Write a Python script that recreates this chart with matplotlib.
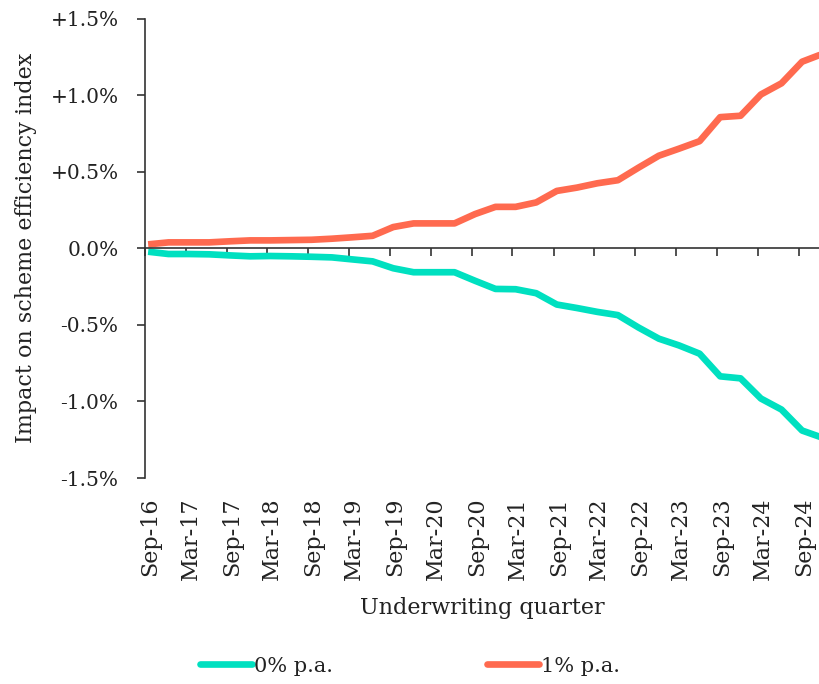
# Impact on scheme efficiency index by underwriting quarter

import pandas as pd
import matplotlib
matplotlib.use('Agg')
import matplotlib.pyplot as plt
import matplotlib.dates as mdates
from matplotlib.transforms import ScaledTranslation

# Données
quarters = ["Sep-16", "Dec-16", "Mar-17", "Jun-17", "Sep-17", "Dec-17", "Mar-18", "Jun-18",
            "Sep-18", "Dec-18", "Mar-19", "Jun-19", "Sep-19", "Dec-19", "Mar-20", "Jun-20",
            "Sep-20", "Dec-20", "Mar-21", "Jun-21", "Sep-21", "Dec-21", "Mar-22", "Jun-22",
            "Sep-22", "Dec-22", "Mar-23", "Jun-23", "Sep-23", "Dec-23", "Mar-24", "Jun-24",
            "Sep-24", "Dec-24"]
zero_pa = [-0.022, -0.037, -0.037, -0.039, -0.046, -0.052, -0.050, -0.052,
           -0.055, -0.059, -0.072, -0.085, -0.130, -0.156, -0.156, -0.156,
           -0.212, -0.265, -0.267, -0.293, -0.367, -0.390, -0.415, -0.436,
           -0.517, -0.590, -0.634, -0.688, -0.836, -0.849, -0.981, -1.053,
           -1.190, -1.237]
one_pa = [0.026, 0.039, 0.039, 0.039, 0.046, 0.052, 0.052, 0.054,
          0.056, 0.063, 0.072, 0.082, 0.139, 0.163, 0.163, 0.163,
          0.224, 0.271, 0.271, 0.300, 0.375, 0.397, 0.425, 0.445,
          0.527, 0.605, 0.651, 0.700, 0.857, 0.866, 1.005, 1.078,
          1.219, 1.270]
y_ticks = [1.5, 1.0, 0.5, 0.0, -0.5, -1.0, -1.5]
y_labels = ["+1.5%", "+1.0%", "+0.5%", "0.0%", "-0.5%", "-1.0%", "-1.5%"]

green = "#00E0C0"
red = "#FF6A4F"
ink = "#222222"

plt.rcParams['font.family'] = ['DejaVu Serif']
plt.rcParams['font.size'] = 14

# points au milieu du mois
dates = pd.to_datetime(quarters, format="%b-%y") + pd.Timedelta(days=14)
tick_dates = pd.date_range("2016-09-01", "2024-09-01", freq="6MS")

fig = plt.figure(figsize=(8.2, 6.84), dpi=100)
ax = fig.add_axes([145 / 820, 1 - 478 / 684, 675 / 820, (478 - 18.7) / 684])

ax.plot(dates, zero_pa, color=green, lw=4.8, solid_capstyle='butt', label="0% p.a.")
ax.plot(dates, one_pa, color=red, lw=4.8, solid_capstyle='butt', label="1% p.a.")

ax.set_ylim(-1.5, 1.5)
ax.set_xlim(pd.Timestamp("2016-09-01"), pd.Timestamp("2024-12-04"))
ax.set_yticks(y_ticks, y_labels)

for s in ['top', 'right']:
    ax.spines[s].set_visible(False)
ax.spines['left'].set_color('#333333')
ax.spines['bottom'].set_color('#333333')
ax.spines['left'].set_linewidth(1.2)
ax.spines['bottom'].set_linewidth(1.2)
ax.spines['bottom'].set_position(('data', 0))

ax.set_xticks(mdates.date2num(tick_dates))
ax.tick_params(axis='x', direction='out', length=6, width=1.2, color='#333333', labelbottom=False)
ax.tick_params(axis='y', direction='out', length=6, width=1.2, color='#333333',
               labelcolor=ink, labelsize=14.5, pad=13)

# étiquettes en bas du graphe
sec = ax.secondary_xaxis('bottom')
sec.set_xticks(mdates.date2num(tick_dates), [d.strftime("%b-%y") for d in tick_dates])
sec.spines['bottom'].set_visible(False)
sec.tick_params(axis='x', length=0, pad=14, labelsize=16, labelcolor=ink, rotation=90)
sec.set_xlabel("Underwriting quarter", fontsize=16, color=ink, labelpad=12)

ax.set_ylabel("Impact on scheme efficiency index", fontsize=16, color=ink, labelpad=10)

leg = fig.legend(loc='center', bbox_to_anchor=(0.5, 1 - 666 / 684), ncol=2, frameon=False,
                 fontsize=15, handlelength=2.5, handletextpad=0.1, columnspacing=7.4)
for line in leg.get_lines():
    line.set_solid_capstyle('round')
for t in leg.get_texts():
    t.set_color(ink)

# décalage léger des étiquettes vers la droite
shift = ScaledTranslation(5 / 100, 0, fig.dpi_scale_trans)
for lab in sec.get_xticklabels():
    lab.set_transform(lab.get_transform() + shift)

plt.savefig("out.png", dpi=100)
print("✅ Graphe sauvegardé dans 'out.png'")
